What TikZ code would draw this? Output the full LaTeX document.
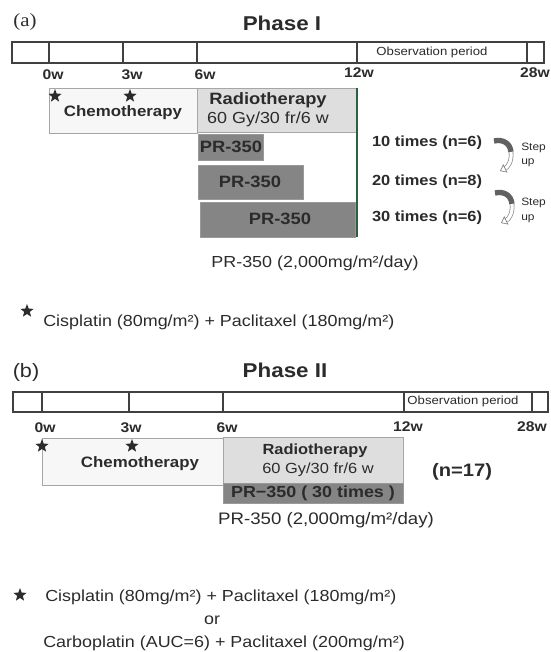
\documentclass[tikz,border=0pt]{standalone}
\usepackage{fontspec}
\setmainfont{Liberation Sans}[FakeStretch=1.12]
\newfontfamily\serifa{Liberation Serif}[FakeStretch=1.12]
\usetikzlibrary{arrows.meta,shapes.geometric}
\newcommand\fsz[1]{\fontsize{#1}{#1}\selectfont}
\definecolor{ink}{HTML}{2B2B2B}
\definecolor{vline}{HTML}{2F5E40}
\begin{document}
\begin{tikzpicture}[x=0.75pt,y=-0.75pt,
  lbl/.style={inner sep=0pt, text=ink},
  tbar/.style={draw=black!75, line width=0.8pt, fill=white},
  tdiv/.style={draw=black!75, line width=0.8pt},
  chemo/.style={draw=black!35, line width=0.6pt, fill=black!3},
  radio/.style={draw=black!35, line width=0.6pt, fill=black!13},
  prbar/.style={draw=black!40, line width=0.5pt, fill=black!48},
  starmark/.style={star, star points=5, star point ratio=2.4, fill=ink, draw=none,
    inner sep=0pt, minimum size=10.5pt},
  wk/.style={lbl, font=\bfseries\fsz{10.5}},
  body/.style={lbl, font=\fsz{12}},
  bbody/.style={lbl, font=\bfseries\fsz{11}},
  stepdark/.style={line width=4pt, draw=black!62},
  steplight/.style={draw=black!50, line width=0.5pt, double=white, double distance=2.4pt,
    -{Triangle[open, length=4.5pt, width=7pt]}},
  steptxt/.style={lbl, anchor=west, font=\fsz{8}}]
\useasboundingbox (0,0) rectangle (550,652);

% ---------------- Phase I ----------------
\node[lbl, font=\serifa\fsz{14}] (a) at (25,22) {(a)};
\node[lbl, font=\bfseries\fsz{15}] (p1) at (282,23) {Phase I};

\draw[tbar] (12,42) rectangle (544,63);
\foreach \x in {49,123,197,357,527} \draw[tdiv] (\x,42) -- (\x,63);
\node[lbl, font=\fsz{8.8}] (obs1) at (432,52) {Observation period};
\node[wk] (w0a) at (53,75) {0w};
\node[wk] (w3a) at (132,75) {3w};
\node[wk] (w6a) at (205,75) {6w};
\node[wk] (w12a) at (359,73) {12w};
\node[wk] (w28a) at (535,73) {28w};

\draw[chemo] (49,88) rectangle (197,133);
\draw[radio] (197,88) rectangle (357,132);
\node[starmark] (s1a) at (55,96) {};
\node[starmark] (s2a) at (130,96) {};
\node[lbl, font=\bfseries\fsz{11.3}] (chemoa) at (123,113) {Chemotherapy};
\node[lbl, font=\bfseries\fsz{12.3}] (radioa) at (268,100) {Radiotherapy};
\node[lbl, font=\fsz{12}] (gya) at (268,119) {60 Gy/30 fr/6 w};

\draw[prbar] (198,134) rectangle (263,160);
\draw[prbar] (198,165) rectangle (303,199);
\draw[prbar] (200,202) rectangle (355,237);
\node[lbl, font=\bfseries\fsz{12.3}] (pr1) at (231,147) {PR-350};
\node[lbl, font=\bfseries\fsz{12.3}] (pr2) at (250,182) {PR-350};
\node[lbl, font=\bfseries\fsz{12.3}] (pr3) at (280,219) {PR-350};
\draw[vline, line width=1.3pt] (357,88) -- (357,237);

\node[bbody] (t10) at (427,143) {10 times (n=6)};
\node[bbody] (t20) at (427,182) {20 times (n=8)};
\node[bbody] (t30) at (427,218) {30 times (n=6)};

\draw[stepdark] (494,141) .. controls (503,139) and (510,143) .. (511,152);
\draw[steplight] (511,152) .. controls (512,161) and (508,167) .. (500,171);
\node[steptxt] (st1) at (521,148) {Step};
\node[steptxt] (up1) at (521,163) {up};
\draw[stepdark] (495,193) .. controls (504,191) and (511,195) .. (512,204);
\draw[steplight] (512,204) .. controls (513,213) and (509,219) .. (501,223);
\node[steptxt] (st2) at (521,203) {Step};
\node[steptxt] (up2) at (521,219) {up};

\node[body] (dosea) at (315,263) {PR-350 (2,000mg/m²/day)};
\node[starmark] (s3a) at (27,311) {};
\node[body, anchor=west] (cisa) at (43,322) {Cisplatin (80mg/m²) + Paclitaxel (180mg/m²)};

% ---------------- Phase II ----------------
\node[lbl, font=\fsz{14.5}] (b) at (26,372) {(b)};
\node[lbl, font=\bfseries\fsz{15}] (p2) at (285,370) {Phase II};

\draw[tbar] (13,392) rectangle (548,412);
\foreach \x in {42,129,223,404,532} \draw[tdiv] (\x,392) -- (\x,412);
\node[lbl, font=\fsz{8.8}] (obs2) at (463,401) {Observation period};
\node[wk] (w0b) at (45,428) {0w};
\node[wk] (w3b) at (131,428) {3w};
\node[wk] (w6b) at (227,428) {6w};
\node[wk] (w12b) at (408,427) {12w};
\node[wk] (w28b) at (532,427) {28w};

\draw[chemo] (42,438) rectangle (223,485);
\draw[radio] (223,437) rectangle (403,483);
\draw[prbar] (223,483) rectangle (403,503);
\node[starmark] (s1b) at (42,446) {};
\node[starmark] (s2b) at (132,446) {};
\node[lbl, font=\bfseries\fsz{11.3}] (chemob) at (140,464) {Chemotherapy};
\node[lbl, font=\bfseries\fsz{11}] (radiob) at (315,451) {Radiotherapy};
\node[lbl, font=\fsz{11}] (gyb) at (318,470) {60 Gy/30 fr/6 w};
\node[lbl, font=\bfseries\fsz{12}] (prb) at (313,493) {PR−350 ( 30 times )};
\node[lbl, font=\bfseries\fsz{13.5}] (n17) at (462,472) {(n=17)};

\node[body, font=\fsz{12.5}] (doseb) at (326,520) {PR-350 (2,000mg/m²/day)};
\node[starmark] (s3b) at (20,595) {};
\node[body, anchor=west] (cisb) at (45,597) {Cisplatin (80mg/m²) + Paclitaxel (180mg/m²)};
\node[body] (orb) at (212,620) {or};
\node[body, anchor=west] (carb) at (43,643) {Carboplatin (AUC=6) + Paclitaxel (200mg/m²)};
\end{tikzpicture}
\end{document}
